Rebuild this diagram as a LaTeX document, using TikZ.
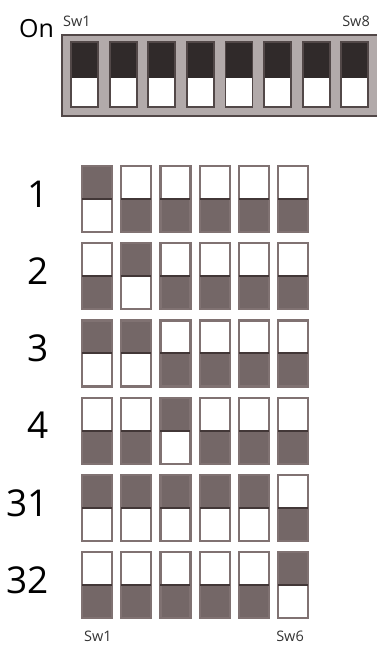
\documentclass[tikz,border=0pt]{standalone}
\usepackage{fontspec}
\setmainfont{Open Sans}
\usepackage{tikz}
\definecolor{swdark}{RGB}{116,103,103}
\definecolor{swedge}{RGB}{128,114,114}
\definecolor{swmid}{RGB}{66,55,55}
\definecolor{topdark}{RGB}{48,42,42}
\definecolor{framegray}{RGB}{178,170,170}
\definecolor{frameedge}{RGB}{82,72,72}

\begin{document}
\begin{tikzpicture}[x=1pt,y=-1pt,
    bigno/.style={anchor=east,inner sep=0pt,font=\fontsize{37}{37}\selectfont},
    swlbl/.style={inner sep=0pt,font=\fontsize{14.5}{14.5}\selectfont,text=black!80},
    gridsw/.style={draw=swedge,line width=2.2pt},
    topsw/.style={draw=frameedge,line width=1.8pt},
]
\useasboundingbox (0,0) rectangle (376,648);

% ---- on-position bar, 8 switches ----
\draw[frameedge,fill=framegray,line width=2.5pt] (62,35) rectangle (380,116);
\foreach \i in {0,...,7}{
  \fill[topdark] ({71+38.6*\i},42) rectangle ({98+38.6*\i},78);
  \fill[white] ({71+38.6*\i},78) rectangle ({98+38.6*\i},107);
  \draw[topsw] ({71+38.6*\i},42) rectangle ({98+38.6*\i},107);
}
\node[inner sep=0pt,anchor=base west,font=\fontsize{25}{25}\selectfont] (on) at (19,37) {On};
\node[swlbl,anchor=base west] (topsw1) at (63,26) {Sw1};
\node[swlbl,anchor=base east] (topsw8) at (370,26) {Sw8};

% ---- address table: row value -> switch pattern ----
\foreach \val [count=\r from 0] in {1,2,3,4,31,32}{
  \node[bigno] (row\val) at (49,{194+77.2*\r}) {\val};
  \foreach \c in {0,...,5}{
    \pgfmathtruncatemacro\bit{mod(floor(\val/2^\c),2)}
    \ifnum\bit=1
      \fill[swdark] ({82+39.2*\c},{166+77.2*\r}) rectangle ({112+39.2*\c},{199+77.2*\r});
    \else
      \fill[swdark] ({82+39.2*\c},{199+77.2*\r}) rectangle ({112+39.2*\c},{232+77.2*\r});
    \fi
    \draw[gridsw] ({82+39.2*\c},{166+77.2*\r}) rectangle ({112+39.2*\c},{232+77.2*\r});
    \draw[swmid,line width=2pt] ({82+39.2*\c},{199+77.2*\r}) -- ({112+39.2*\c},{199+77.2*\r});
  }
}
\node[swlbl,anchor=base west] (botsw1) at (84,641) {Sw1};
\node[swlbl,anchor=base east] (botsw6) at (304,641) {Sw6};

\end{tikzpicture}
\end{document}
